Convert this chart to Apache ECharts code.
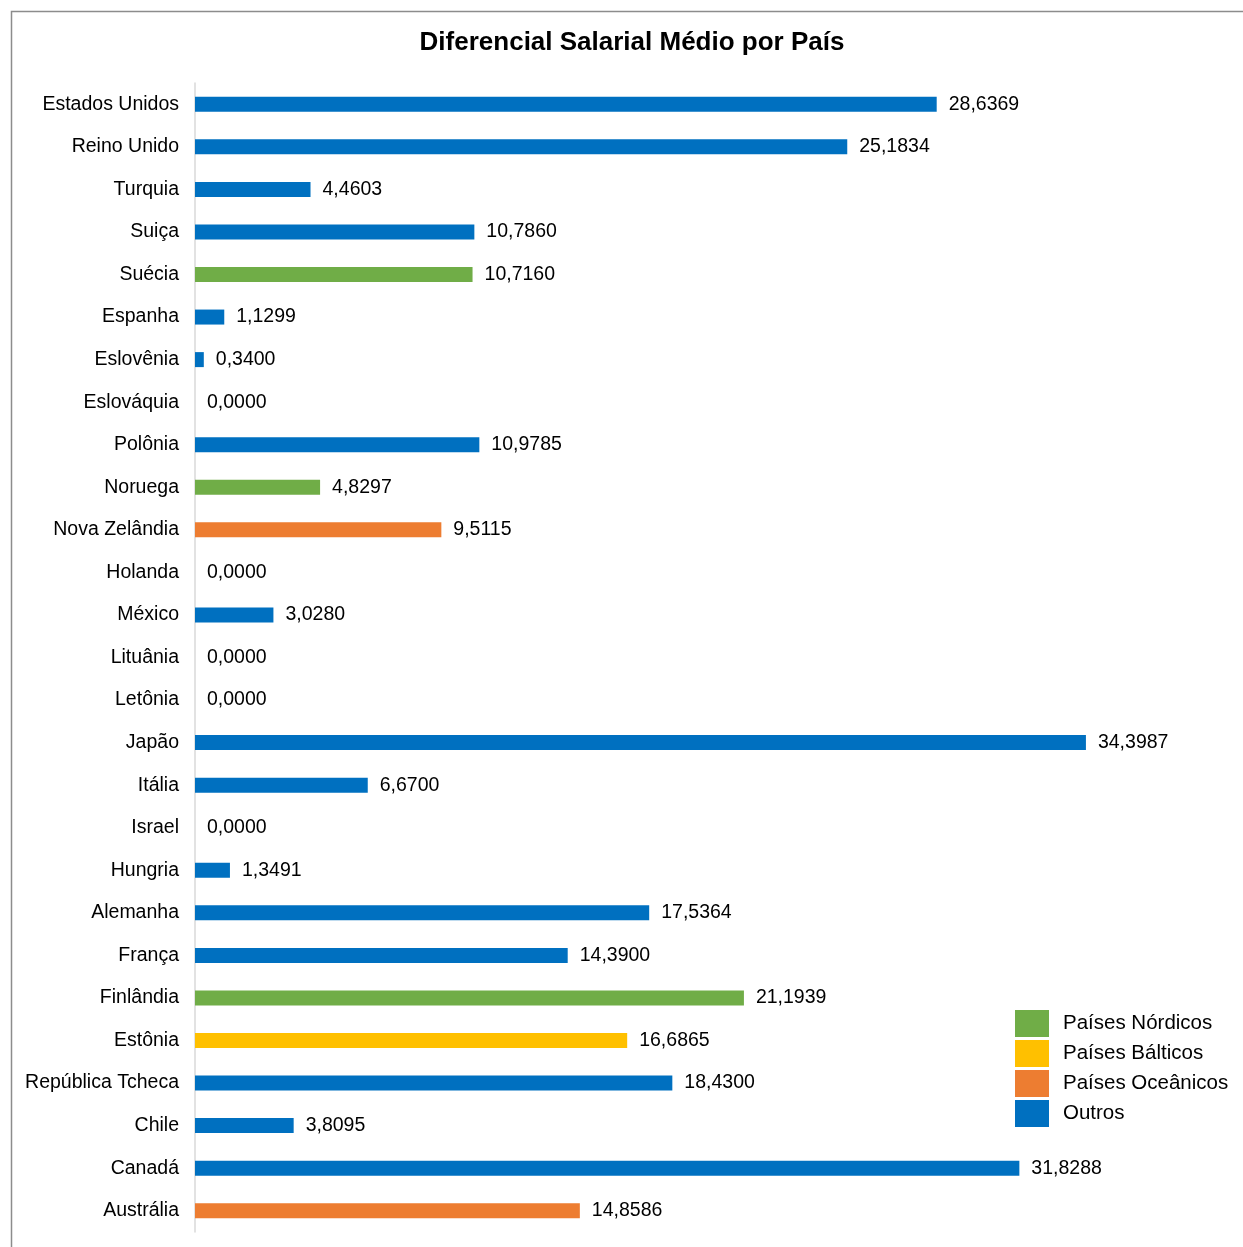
<!DOCTYPE html>
<html>
<head>
<meta charset="utf-8">
<script src="https://cdn.jsdelivr.net/npm/echarts@6/dist/echarts.min.js"></script>
<style>
  html, body { margin: 0; padding: 0; background: #fff; }
  #chart { width: 1243px; height: 1247px; }
</style>
</head>
<body>
<div id="chart"></div>
<script>
// Countries from top to bottom
const countries = [
  'Estados Unidos', 'Reino Unido', 'Turquia', 'Suiça', 'Suécia', 'Espanha',
  'Eslovênia', 'Eslováquia', 'Polônia', 'Noruega', 'Nova Zelândia', 'Holanda',
  'México', 'Lituânia', 'Letônia', 'Japão', 'Itália', 'Israel', 'Hungria',
  'Alemanha', 'França', 'Finlândia', 'Estônia', 'República Tcheca', 'Chile',
  'Canadá', 'Austrália'
];

// Average wage differential per country
const values = [
  28.6369, 25.1834, 4.4603, 10.7860, 10.7160, 1.1299,
  0.3400, 0.0000, 10.9785, 4.8297, 9.5115, 0.0000,
  3.0280, 0.0000, 0.0000, 34.3987, 6.6700, 0.0000, 1.3491,
  17.5364, 14.3900, 21.1939, 16.6865, 18.4300, 3.8095,
  31.8288, 14.8586
];

// Group of each country (index into groupNames)
const groups = [
  3, 3, 3, 3, 0, 3,
  3, 3, 3, 0, 2, 3,
  3, 1, 1, 3, 3, 3, 3,
  3, 3, 0, 1, 3, 3,
  3, 2
];

const groupNames = ['Países Nórdicos', 'Países Bálticos', 'Países Oceânicos', 'Outros'];
const groupColors = ['#70AD47', '#FFC000', '#ED7D31', '#0070C0'];

const FONT = 'Liberation Sans, Arial, sans-serif';
const fmt = v => v.toFixed(4).replace('.', ',');

const series = groupNames.map((name, g) => ({
  name: name,
  type: 'bar',
  barWidth: 15,
  barGap: '-100%',
  itemStyle: { color: groupColors[g] },
  label: {
    show: true,
    position: 'right',
    distance: 12,
    color: '#000',
    fontSize: 19.5,
    fontFamily: FONT,
    formatter: p => fmt(p.value)
  },
  data: values.map((v, i) => (groups[i] === g ? v : null))
}));

const chart = echarts.init(document.getElementById('chart'));
chart.setOption({
  animation: false,
  backgroundColor: '#fff',
  title: {
    text: 'Diferencial Salarial Médio por País',
    left: 627,
    top: 25,
    textAlign: 'center',
    textStyle: {
      fontSize: 26,
      fontWeight: 'bold',
      color: '#000',
      fontFamily: FONT
    }
  },
  graphic: [{
    type: 'rect',
    shape: { x: 11.5, y: 11.5, width: 1300, height: 1300 },
    style: { fill: 'none', stroke: '#8c8c8c', lineWidth: 1.5 },
    silent: true,
    z: -1
  }],
  legend: {
    orient: 'vertical',
    left: 1015,
    top: 1010,
    padding: 0,
    itemWidth: 34,
    itemHeight: 27,
    itemGap: 3,
    icon: 'rect',
    textStyle: {
      fontSize: 20.5,
      color: '#000',
      padding: [8, 0, 0, 9],
      fontFamily: FONT
    },
    data: groupNames
  },
  grid: { left: 195, right: 12, top: 83, bottom: 15 },
  xAxis: {
    type: 'value',
    min: 0,
    max: 40,
    show: false
  },
  yAxis: {
    type: 'category',
    inverse: true,
    data: countries,
    axisLine: { show: true, lineStyle: { color: '#d9d9d9', width: 1.5 } },
    axisTick: { show: false },
    axisLabel: {
      margin: 16,
      fontSize: 19.5,
      color: '#000',
      fontFamily: FONT
    }
  },
  series: series
});
</script>
</body>
</html>
